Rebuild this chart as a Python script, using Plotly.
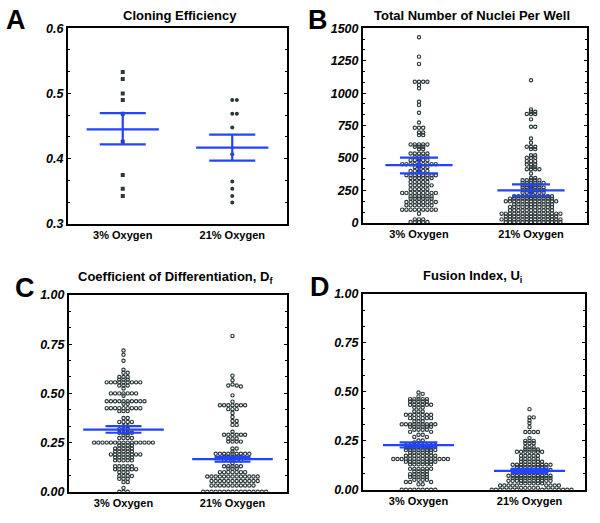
import numpy as np
import plotly.graph_objects as go

categories = ["3% Oxygen", "21% Oxygen"]

# ---- Panel A: Cloning Efficiency ----
a_3 = [0.533, 0.522, 0.500, 0.490, 0.469, 0.426, 0.375, 0.354, 0.343]
a_21 = [0.490, 0.490, 0.469, 0.469, 0.448, 0.407, 0.365, 0.354, 0.343, 0.333]
a_mean = [0.445, 0.417]
a_upper = [0.470, 0.437]
a_lower = [0.422, 0.397]

# ---- Panel B: Total Number of Nuclei Per Well ----
b_3 = [1430, 1281, 1225, 1088, 1088, 1088, 1088, 1062, 1037, 934, 908, 849, 774,
       733, 733, 733, 697, 697, 677, 677,
       605, 605, 605, 605, 605, 587, 587, 587, 569, 569,
       535, 535, 535, 535, 535, 509, 509, 509, 509, 484, 484, 484, 484, 484,
       453, 453, 453, 453, 453, 453, 453, 453, 453, 432, 432, 432, 432,
       401, 401, 401, 401, 401, 368, 368, 368, 368, 368, 368, 368, 368,
       347, 347, 347, 347, 347, 347, 316, 316, 316, 316, 316,
       290, 290, 290, 290, 290, 290, 260, 260, 260, 260, 260,
       232, 232, 232, 232, 232, 232, 232, 232, 232, 206, 206, 206, 206, 206, 206,
       188, 188, 188, 188, 188, 188, 162, 162, 162, 162, 162, 162, 162, 162,
       136, 136, 136, 136, 136, 136, 136, 103, 103, 103, 103, 103, 103, 103, 103, 103,
       72, 28, 28, 28, 8, 8, 8, 8, 8]
b_21 = [1099, 875, 857, 857, 839, 839, 839, 798, 741, 741, 651, 618,
        587, 587, 587, 569, 569, 522, 522, 502, 502, 502, 476, 476, 476,
        450, 450, 450, 432, 432, 414, 414, 414, 414, 381, 347, 347,
        329, 329, 329, 329, 329, 309, 309, 309, 309, 309, 309,
        291, 291, 291, 291, 291, 273, 273, 273, 273, 273, 273,
        252, 252, 252, 252, 252, 252, 234, 234, 234, 234, 234, 234,
        206, 206, 206, 206, 206, 206, 206, 206, 206, 206,
        188, 188, 188, 188, 188, 188, 188, 188, 188, 188, 188,
        167, 167, 167, 167, 167, 167, 167, 167, 167, 167, 167, 167, 167,
        144, 144, 144, 144, 144, 144, 144, 144, 144, 144,
        124, 124, 124, 124, 124, 124, 124, 124, 124, 124, 124,
        98, 98, 98, 98, 98, 98, 98, 98, 98, 98, 98,
        72, 72, 72, 72, 72, 72, 72, 72, 72, 72, 72, 72, 72, 72, 72,
        51, 51, 51, 51, 51, 51, 51, 51, 51, 51, 51, 51, 51,
        28, 28, 28, 28, 28, 28, 28, 28, 28, 28, 28, 28, 28, 28, 28,
        8, 8, 8, 8, 8, 8, 8, 8, 8, 8, 8, 8, 8, 8]
b_mean = [445, 252]
b_upper = [504, 298]
b_lower = [383, 208]

# ---- Panel C: Coefficient of Differentiation ----
c_3 = [0.718, 0.696, 0.666, 0.62, 0.605, 0.605, 0.583, 0.583, 0.583, 0.57, 0.57, 0.57,
       0.556, 0.556, 0.556, 0.556, 0.556, 0.556, 0.556, 0.556, 0.556,
       0.54, 0.54, 0.54, 0.525,
       0.50, 0.50, 0.50, 0.50, 0.50, 0.50, 0.50, 0.488,
       0.46, 0.46, 0.46, 0.46, 0.46, 0.46, 0.46, 0.46, 0.46, 0.46, 0.447, 0.447,
       0.425, 0.425, 0.425, 0.425, 0.425, 0.425, 0.425, 0.425, 0.425,
       0.41, 0.41, 0.41, 0.375, 0.375, 0.355, 0.355, 0.355, 0.355,
       0.333, 0.333, 0.318, 0.318, 0.318, 0.30, 0.30, 0.30, 0.30, 0.288, 0.288,
       0.273, 0.273, 0.273, 0.273,
       0.25, 0.25, 0.25, 0.25, 0.25, 0.25, 0.25, 0.25, 0.25, 0.25, 0.25, 0.25, 0.25, 0.25, 0.25,
       0.235, 0.235, 0.235, 0.235, 0.22, 0.22, 0.22, 0.22, 0.22,
       0.205, 0.205, 0.205, 0.205, 0.205,
       0.19, 0.19, 0.19, 0.19, 0.19, 0.19, 0.19, 0.19,
       0.175, 0.175, 0.175, 0.175, 0.175, 0.16, 0.16, 0.16, 0.16, 0.16,
       0.13, 0.13, 0.13, 0.13, 0.13, 0.115, 0.115, 0.115, 0.115, 0.115, 0.115,
       0.10, 0.10, 0.10, 0.08, 0.08, 0.08, 0.08, 0.066, 0.066, 0.066,
       0.05, 0.05, 0.02, 0.0, 0.0, 0.0]
c_21 = [0.792, 0.59, 0.567, 0.545, 0.54, 0.54, 0.535, 0.49, 0.458,
        0.44, 0.44, 0.44, 0.44, 0.44, 0.44, 0.44, 0.42, 0.42, 0.42, 0.40, 0.38,
        0.36, 0.36, 0.34, 0.34, 0.305,
        0.29, 0.29, 0.29, 0.29, 0.29, 0.29, 0.27, 0.27, 0.27,
        0.255, 0.255, 0.255, 0.255, 0.22, 0.22, 0.205,
        0.193, 0.193, 0.193, 0.193, 0.193, 0.193, 0.193, 0.193, 0.193,
        0.178, 0.178, 0.178, 0.178, 0.178, 0.16, 0.16, 0.16, 0.16, 0.16, 0.145,
        0.13, 0.13, 0.13, 0.13, 0.13, 0.117, 0.117, 0.117,
        0.10, 0.10, 0.10, 0.10, 0.10, 0.10, 0.10,
        0.078, 0.078, 0.078, 0.078, 0.078, 0.078, 0.078, 0.078, 0.078, 0.078, 0.078, 0.078, 0.078,
        0.055, 0.055, 0.055, 0.055, 0.055, 0.055, 0.055, 0.055, 0.055, 0.055, 0.055, 0.055,
        0.032, 0.032, 0.032, 0.032, 0.032, 0.032, 0.032, 0.032, 0.032, 0.032, 0.032,
        0.0, 0.0, 0.0, 0.0, 0.0, 0.0, 0.0, 0.0, 0.0, 0.0, 0.0, 0.0, 0.0, 0.0, 0.0, 0.0]
c_mean = [0.316, 0.166]
c_upper = [0.334, 0.178]
c_lower = [0.300, 0.153]

# ---- Panel D: Fusion Index ----
d_3 = [0.497, 0.49, 0.477,
       0.463, 0.463, 0.463, 0.463, 0.463, 0.451, 0.451, 0.451, 0.451, 0.451,
       0.434, 0.434, 0.434, 0.434, 0.434, 0.434, 0.42, 0.42, 0.42, 0.40, 0.40, 0.40,
       0.383, 0.383, 0.383, 0.383, 0.383, 0.383, 0.383,
       0.366, 0.366, 0.366, 0.366, 0.366, 0.366, 0.35, 0.35, 0.35,
       0.335, 0.335, 0.335, 0.335, 0.335, 0.335, 0.335, 0.335, 0.335,
       0.322, 0.322, 0.322, 0.322, 0.322, 0.322,
       0.307, 0.307, 0.307, 0.307, 0.296, 0.296, 0.281, 0.281, 0.27, 0.27,
       0.252, 0.252, 0.242,
       0.228, 0.228, 0.228, 0.228, 0.228, 0.228, 0.228, 0.228,
       0.216, 0.216, 0.216, 0.216, 0.216, 0.216, 0.216,
       0.203, 0.203, 0.203, 0.203, 0.203, 0.203, 0.203, 0.203,
       0.19, 0.19, 0.19, 0.19, 0.19, 0.19,
       0.174, 0.174, 0.174, 0.174, 0.174, 0.174, 0.174, 0.174,
       0.157, 0.157, 0.157, 0.157, 0.157, 0.157, 0.157, 0.157, 0.157, 0.157, 0.157, 0.157, 0.157, 0.157,
       0.143, 0.143, 0.143, 0.143, 0.143, 0.143, 0.143, 0.143,
       0.13, 0.13, 0.13, 0.13, 0.13, 0.13,
       0.107, 0.107, 0.107, 0.107, 0.107, 0.107, 0.094, 0.094, 0.094, 0.094,
       0.08, 0.08, 0.08, 0.08, 0.08, 0.065, 0.065, 0.065, 0.065, 0.065,
       0.051, 0.051, 0.051, 0.051, 0.04, 0.04, 0.04, 0.028, 0.028,
       0.0, 0.0, 0.0, 0.0, 0.0, 0.0, 0.0, 0.0, 0.0]
d_21 = [0.412, 0.37, 0.37, 0.354, 0.34, 0.32, 0.295, 0.295, 0.295, 0.295, 0.264,
        0.25, 0.25, 0.25, 0.238, 0.238, 0.238, 0.218, 0.218, 0.218,
        0.206, 0.206, 0.206, 0.206, 0.194, 0.194, 0.194, 0.194, 0.194, 0.194, 0.194,
        0.174, 0.174, 0.174, 0.174, 0.174, 0.157, 0.157, 0.157, 0.157, 0.157,
        0.143, 0.143, 0.143, 0.143, 0.143, 0.143,
        0.128, 0.128, 0.128, 0.128, 0.128, 0.128, 0.128, 0.128, 0.128, 0.128,
        0.115, 0.115, 0.115, 0.115, 0.115, 0.115, 0.115, 0.115,
        0.101, 0.101, 0.101, 0.101, 0.101, 0.101, 0.101, 0.101, 0.101, 0.101,
        0.088, 0.088, 0.088, 0.088,
        0.072, 0.072, 0.072, 0.072, 0.072, 0.072, 0.072, 0.072, 0.072, 0.072, 0.072,
        0.06, 0.06, 0.06, 0.06, 0.06, 0.06, 0.06, 0.06, 0.06, 0.06,
        0.046, 0.046, 0.046, 0.046, 0.046, 0.046, 0.046, 0.046, 0.046, 0.046, 0.046,
        0.033, 0.033, 0.033, 0.033, 0.033, 0.033,
        0.022, 0.022, 0.022, 0.022, 0.022, 0.022, 0.022, 0.022, 0.022,
        0.01, 0.01, 0.01, 0.01, 0.01,
        0.0, 0.0, 0.0, 0.0, 0.0, 0.0, 0.0, 0.0, 0.0, 0.0, 0.0, 0.0, 0.0, 0.0, 0.0]
d_mean = [0.228, 0.097]
d_upper = [0.242, 0.107]
d_lower = [0.216, 0.086]

W, H = 600, 523
FONT = "Liberation Sans, Arial, sans-serif"
PT_COLOR = "#2b3838"
BLUE = "#2244ff"
YC, YS = 261.5, 1.0 / 0.974   # vertical layout correction about the centre


def py(y):
    return YC + (y - YC) * YS


def swarm(vals, ypx, d, tol):
    """Row-style dot layout: points closer than `tol` px vertically share a row."""
    vals = np.asarray(vals, dtype=float)
    order = np.argsort(-vals, kind="stable")
    placed = []
    xs = np.zeros(len(vals))
    for i in order:
        y = vals[i] * ypx
        near = [px for px, pyy in placed if abs(pyy - y) < tol]
        cands = [0.0] + [px + d for px in near] + [px - d for px in near]
        cands.sort(key=lambda c: (round(abs(c), 6), -np.sign(c)))
        chosen = cands[-1]
        for c in cands:
            if all(abs(c - px) >= d - 1e-6 for px in near):
                chosen = c
                break
        placed.append((chosen, y))
        xs[i] = chosen
    return xs


panels = [
    dict(key="", box=(68, 287, 28, 224), rng=(0.3, 0.6), dtick=0.1, fmt=".1f",
         groups=[a_3, a_21], mean=a_mean, up=a_upper, lo=a_lower,
         symbols=["square", "circle"], size=4.0, hw=0.33, cw=0.21,
         title="Cloning Efficiency", tx=180, ty=15, letter="A", lx=16, ly=20),
    dict(key="2", box=(363, 587, 28, 223), rng=(0, 1500), dtick=250, fmt="d",
         groups=[b_3, b_21], mean=b_mean, up=b_upper, lo=b_lower,
         symbols=["circle-open", "circle-open"], size=3.3, hw=0.30, cw=0.17,
         title="Total Number of Nuclei Per Well", tx=472, ty=15, letter="B", lx=318, ly=20),
    dict(key="3", box=(69, 287, 295, 492), rng=(0, 1.0), dtick=0.25, fmt=".2f",
         groups=[c_3, c_21], mean=c_mean, up=c_upper, lo=c_lower,
         symbols=["circle-open", "circle-open"], size=3.3, hw=0.37, cw=0.165,
         title="Coefficient of Differentiation, D<sub>f</sub>", tx=175, ty=278,
         letter="C", lx=25, ly=288),
    dict(key="4", box=(363, 585, 294, 490), rng=(0, 1.0), dtick=0.25, fmt=".2f",
         groups=[d_3, d_21], mean=d_mean, up=d_upper, lo=d_lower,
         symbols=["circle-open", "circle-open"], size=3.3, hw=0.32, cw=0.17,
         title="Fusion Index, U<sub>i</sub>", tx=472, ty=277, letter="D", lx=320, ly=287),
]

fig = go.Figure()
annotations = []
layout_axes = {}

for p in panels:
    x0, x1, yt, yb = p["box"]
    yt, yb = py(yt), py(yb)
    xpx = (x1 - x0) / 2.0
    ypx = (yb - yt) / (p["rng"][1] - p["rng"][0])
    xa = "x" + p["key"]
    ya = "y" + p["key"]
    for gi, vals in enumerate(p["groups"]):
        filled = not p["symbols"][gi].endswith("open")
        spacing = 4.6 if filled else 4.2
        offs = swarm(vals, ypx, spacing, 2.3) / xpx
        marker = dict(symbol=p["symbols"][gi], size=p["size"], color=PT_COLOR,
                      line=dict(width=0 if filled else 1.15, color=PT_COLOR))
        fig.add_trace(go.Scatter(x=gi + offs, y=vals, mode="markers", marker=marker,
                                 xaxis=xa, yaxis=ya, showlegend=False, hoverinfo="y"))
    for gi in range(2):
        m, u, l = p["mean"][gi], p["up"][gi], p["lo"][gi]
        xs = [gi - p["hw"], gi + p["hw"], None,
              gi - p["cw"], gi + p["cw"], None,
              gi - p["cw"], gi + p["cw"], None,
              gi, gi]
        ys = [m, m, None, u, u, None, l, l, None, u, l]
        fig.add_trace(go.Scatter(x=xs, y=ys, mode="lines",
                                 line=dict(color=BLUE, width=2.2),
                                 xaxis=xa, yaxis=ya, showlegend=False, hoverinfo="skip"))
    layout_axes["xaxis" + p["key"]] = dict(
        domain=[x0 / W, x1 / W], anchor=ya, range=[-0.5, 1.5],
        tickmode="array", tickvals=[0, 1], ticktext=categories,
        ticks="", showgrid=False, zeroline=False,
        showline=True, mirror=True, linewidth=2, linecolor="black",
        tickfont=dict(family=FONT, size=11, color="black", weight="bold"),
        fixedrange=True)
    layout_axes["yaxis" + p["key"]] = dict(
        domain=[1 - yb / H, 1 - yt / H], anchor=xa, range=list(p["rng"]),
        tickmode="linear", tick0=p["rng"][0], dtick=p["dtick"], tickformat=p["fmt"],
        ticks="inside", ticklen=3, tickwidth=1, tickcolor="black",
        minor=dict(ticks="inside", ticklen=2, tickcolor="black",
                   tick0=p["rng"][0], dtick=p["dtick"] / 3.0),
        showgrid=False, zeroline=False,
        showline=True, mirror="ticks", linewidth=2, linecolor="black",
        tickfont=dict(family=FONT, size=12.5, color="black", weight="bold", style="italic"),
        fixedrange=True)
    annotations.append(dict(text=p["title"], x=p["tx"] / W, y=1 - py(p["ty"]) / H,
                            xref="paper", yref="paper", showarrow=False,
                            xanchor="center", yanchor="middle",
                            font=dict(family=FONT, size=13, color="black", weight="bold")))
    annotations.append(dict(text=p["letter"], x=p["lx"] / W, y=1 - py(p["ly"]) / H,
                            xref="paper", yref="paper", showarrow=False,
                            xanchor="center", yanchor="middle",
                            font=dict(family=FONT, size=27, color="black", weight="bold")))

fig.update_layout(width=W, height=H, margin=dict(l=0, r=0, t=0, b=0),
                  paper_bgcolor="white", plot_bgcolor="white",
                  annotations=annotations, **layout_axes)

fig.write_html("out.html", config={"displayModeBar": False},
               post_script="document.body.style.margin='0';")
